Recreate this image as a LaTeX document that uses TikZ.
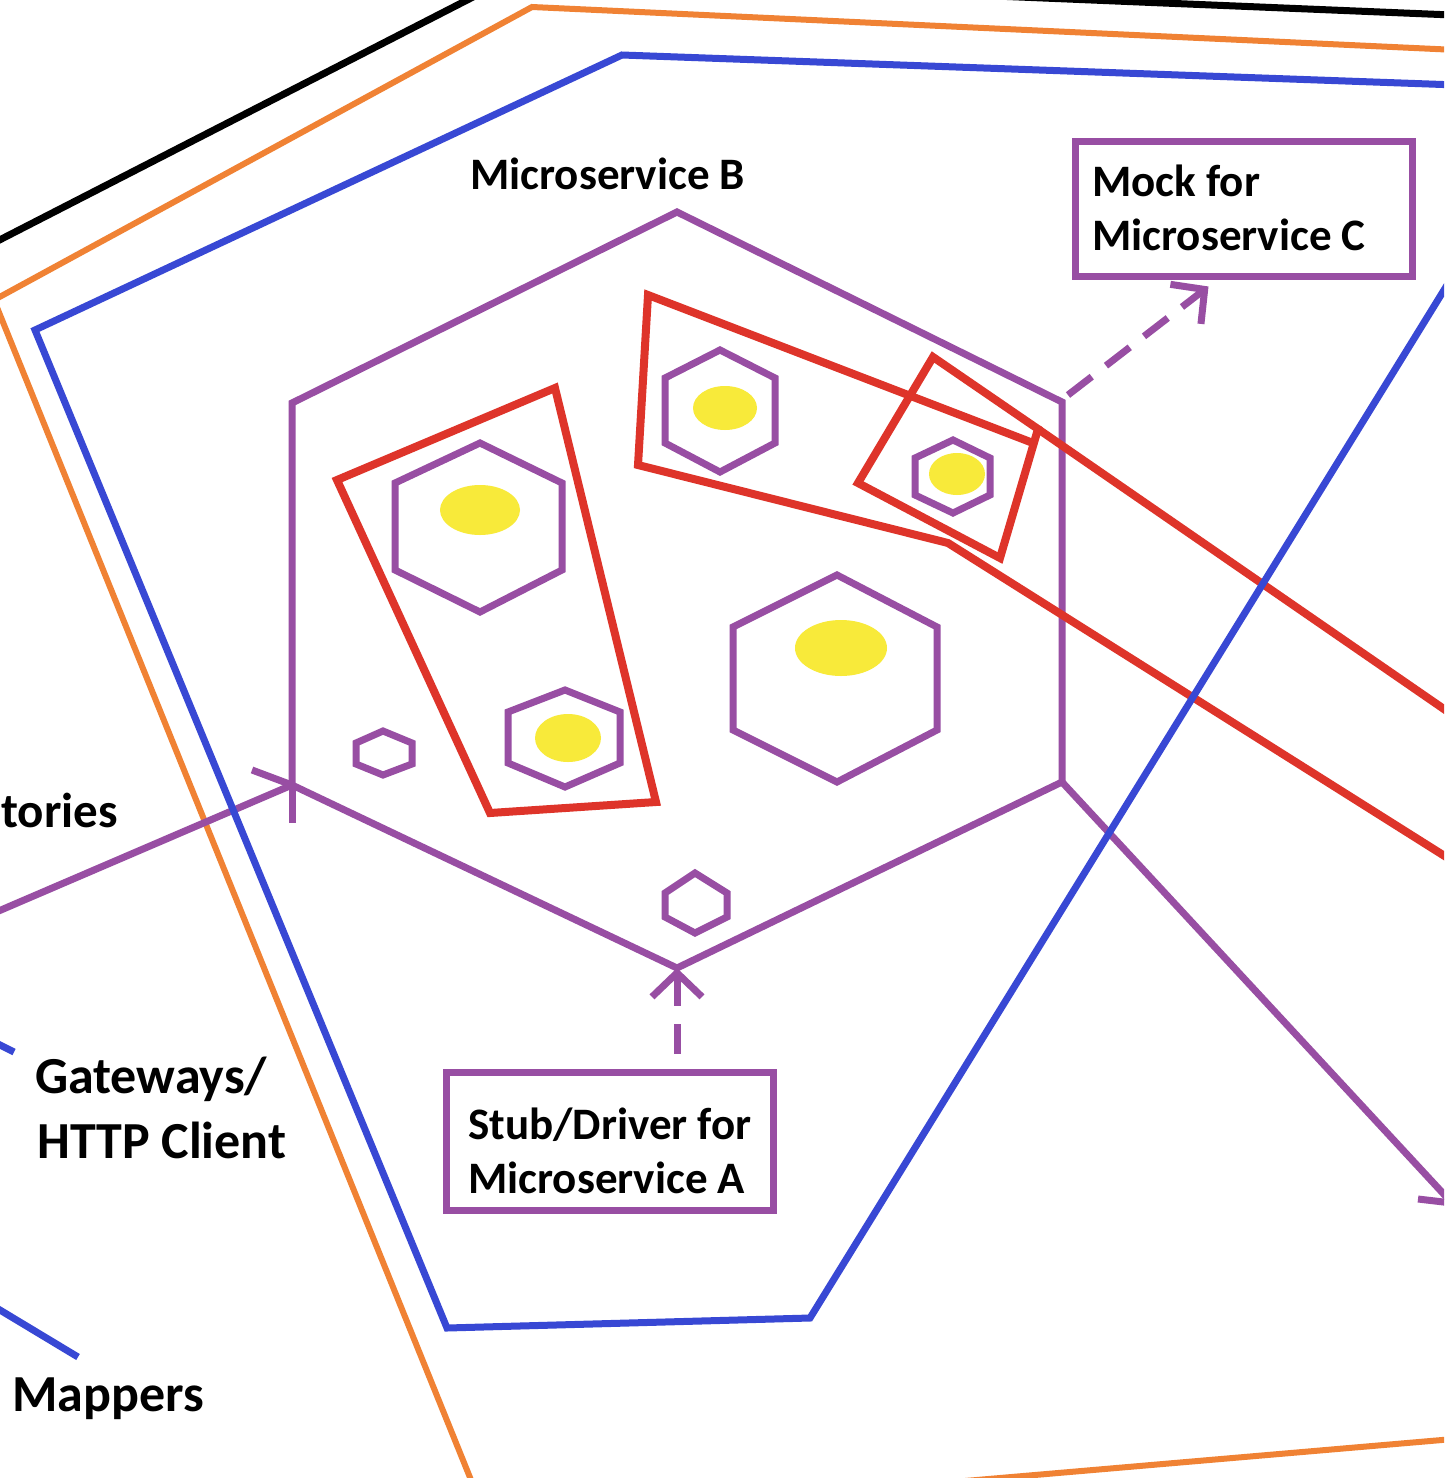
\documentclass[tikz,border=0pt]{standalone}
\usepackage{fontspec}
\setmainfont{Carlito}
\usetikzlibrary{arrows.meta}
\definecolor{cpurple}{RGB}{152,78,163}
\definecolor{cred}{RGB}{222,52,42}
\definecolor{cblue}{RGB}{56,72,212}
\definecolor{corange}{RGB}{240,130,52}
\definecolor{cyellow}{RGB}{248,234,58}
\begin{document}
\begin{tikzpicture}[x=1pt,y=-1pt, line join=miter,
  pur/.style={draw=cpurple, line width=7pt},
  redl/.style={draw=cred, line width=8pt},
  bluel/.style={draw=cblue, line width=7pt},
  orl/.style={draw=corange, line width=6pt},
  blk/.style={draw=black, line width=7pt},
  yolk/.style={fill=cyellow},
  dasharr/.style={draw=cpurple, line width=7pt, dash pattern=on 30pt off 18pt, -{Straight Barb[length=24pt,width=50pt]}},
  pbox/.style={draw=cpurple, line width=7pt, inner sep=0pt, fill=white},
  lbl/.style={inner sep=0pt, font=\fontsize{45}{54}\selectfont\bfseries},
  biglbl/.style={inner sep=0pt, font=\fontsize{52}{60}\selectfont\bfseries},
]
\useasboundingbox (0,0) rectangle (1444,1478);
\clip (0,0) rectangle (1444,1478);
\fill[white] (0,0) rectangle (1444,1478);

% outer layers
\draw[blk] (-20,250) -- (514,-24) -- (1500,17);
\draw[orl] (1500,1435) -- (488,1522) -- (-6,300) -- (532,7) -- (1500,52);

% named corners of Microservice B
\coordinate (hT) at (677,212);
\coordinate (hR) at (1062,402);
\coordinate (hLR) at (1062,782);
\coordinate (hB) at (677,968);
\coordinate (hL) at (292,785);
\coordinate (hUL) at (292,403);

% yellow cores
\fill[yolk] (480,510) ellipse [x radius=40pt, y radius=25pt];
\fill[yolk] (568,738) ellipse [x radius=33pt, y radius=24pt];
\fill[yolk] (725,408) ellipse [x radius=32pt, y radius=22pt];
\fill[yolk] (957,474) ellipse [x radius=28pt, y radius=21pt];
\fill[yolk] (841,648) ellipse [x radius=46pt, y radius=28pt];

% Microservice B hexagon and inner hexagons
\draw[pur] (hT) -- (hR) -- (hLR) -- (hB) -- (hL) -- (hUL) -- cycle;
\draw[pur] (480,443) -- (562,483) -- (562,570) -- (480,612) -- (395,570) -- (395,483) -- cycle;
\draw[pur] (565,690) -- (620,712) -- (620,763) -- (565,787) -- (508,763) -- (508,712) -- cycle;
\draw[pur] (720,350) -- (775,378) -- (775,443) -- (720,472) -- (665,443) -- (665,378) -- cycle;
\draw[pur] (953,440) -- (990,458) -- (990,495) -- (953,513) -- (915,495) -- (915,458) -- cycle;
\draw[pur] (837,575) -- (937,627) -- (937,730) -- (837,782) -- (733,730) -- (733,627) -- cycle;
\draw[pur] (383,731) -- (412,743) -- (412,764) -- (383,775) -- (356,764) -- (356,743) -- cycle;
\draw[pur] (695,873) -- (727,893) -- (727,917) -- (695,933) -- (665,917) -- (665,893) -- cycle;

% incoming arrow from the left (Repositories)
\draw[pur] (-20,919) -- (hL);
\draw[pur] (hL) -- ++(-40,-15);
\draw[pur] (hL) -- ++(0,38);
% outgoing arrow to the lower right
\coordinate (outR) at (1452,1203);
\draw[pur] (hLR) -- (outR);
\draw[pur] (outR) -- (1418,1199);

% red test boundaries
\draw[redl] (337,480) -- (555,388) -- (656,802) -- (490,813) -- cycle;
\draw[redl] (1033,443) -- (648,295) -- (638,465) -- (948,543) -- (1470,872);
\draw[redl] (933,357) -- (1038,429) -- (1000,558) -- (858,483) -- cycle;
\draw[redl] (1038,429) -- (1470,727);

% blue layer
\draw[bluel] (622,55) -- (1568,89) -- (810,1318) -- (447,1328) -- (35,330) -- cycle;
\draw[bluel] (-30,1030) -- (14,1052);
\draw[bluel] (-20,1298) -- (78,1357);

% boxes
\node[pbox, minimum width=337pt, minimum height=135pt] (mock) at (1243.5,208.5) {};
\node[pbox, minimum width=327pt, minimum height=138pt] (stub) at (609.5,1141) {};

% dashed arrows
\draw[dasharr] ([xshift=6pt,yshift=7pt]hR) -- ([xshift=137pt,yshift=-7pt]mock.south west);
\draw[dasharr] ([xshift=67.5pt,yshift=15pt]stub.north) -- (hB);

% texts
\node[lbl, anchor=base west] (msb) at (470,189) {Microservice B};
\node[lbl, anchor=base west] (mockt1) at (1092,196) {Mock for};
\node[lbl, anchor=base west] (mockt2) at (1092,250) {Microservice C};
\node[lbl, anchor=base west] (stubt1) at (468,1139) {Stub/Driver for};
\node[lbl, anchor=base west] (stubt2) at (468,1193) {Microservice A};
\node[inner sep=0pt, font=\fontsize{49}{58}\selectfont\bfseries, anchor=base west] (tories) at (1,827) {tories};
\node[biglbl, anchor=base west] (gw) at (35,1093) {Gateways/};
\node[biglbl, anchor=base west] (http) at (37,1158) {HTTP Client};
\node[biglbl, anchor=base west] (map) at (12,1411) {Mappers};
\end{tikzpicture}
\end{document}
